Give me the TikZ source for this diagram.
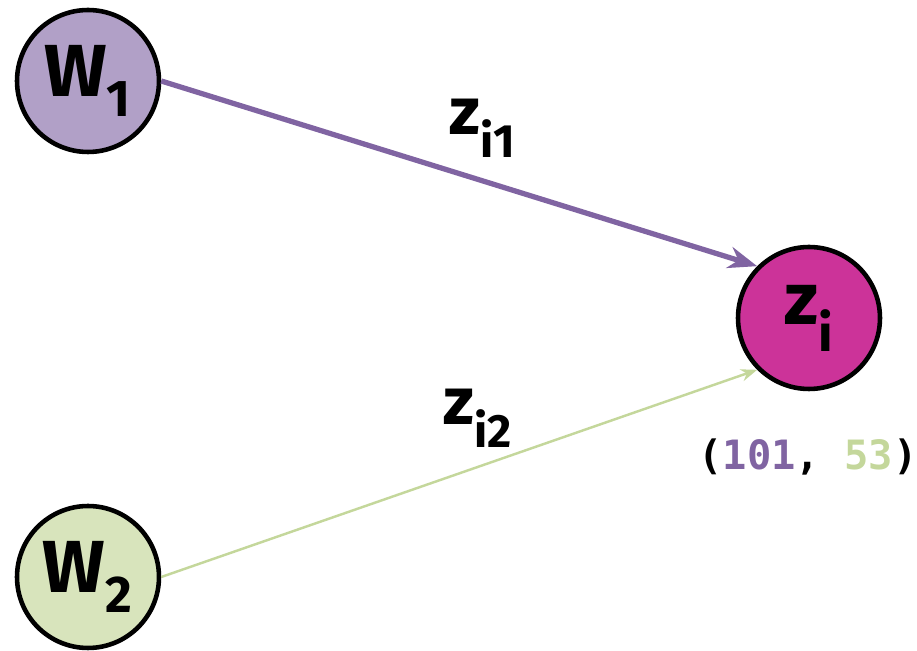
\documentclass[tikz,border=0pt]{standalone}
\usepackage{fontspec}
\setmainfont{Fira Sans}
\setmonofont{DejaVu Sans Mono}
\usetikzlibrary{arrows.meta, positioning, calc}
\definecolor{wonefill}{HTML}{B1A0C7}
\definecolor{wonearrow}{HTML}{8064A2}
\definecolor{wtwofill}{HTML}{D8E4BC}
\definecolor{wtwoarrow}{HTML}{C4D79B}
\definecolor{zfill}{HTML}{CC3399}
\tikzset{
  unit/.style={circle, draw=black, line width=2.6pt, minimum size=2.84cm, inner sep=0pt,
    font=\fontsize{42}{42}\selectfont\bfseries},
  weightlabel/.style={font=\fontsize{38}{38}\selectfont\bfseries}
}

\begin{document}
\begin{tikzpicture}[>=Stealth, x=0.02cm, y=-0.02cm]
  \useasboundingbox (0,0) rectangle (917,651);
  \node[unit, fill=wonefill] (w1) at (88,81) {W\textsubscript{1}};
  \node[unit, fill=wtwofill] (w2) at (88,577) {W\textsubscript{2}};
  \node[unit, fill=zfill] (zi) at (809,318) {z\textsubscript{i}};
  \draw[->, wonearrow, line width=3pt] (w1.east) -- (zi.north west);
  \draw[->, wtwoarrow, line width=1.4pt] (w2.east) -- (zi.south west);
  \node[weightlabel] (zione) at (483,128) {z\textsubscript{i1}};
  \node[weightlabel] (zitwo) at (478,418) {z\textsubscript{i2}};
  \node[font=\fontsize{23}{23}\selectfont\ttfamily\bfseries] (pair) at (808,457)
    {(\textcolor{wonearrow}{101}, \textcolor{wtwoarrow}{53})};
\end{tikzpicture}
\end{document}
